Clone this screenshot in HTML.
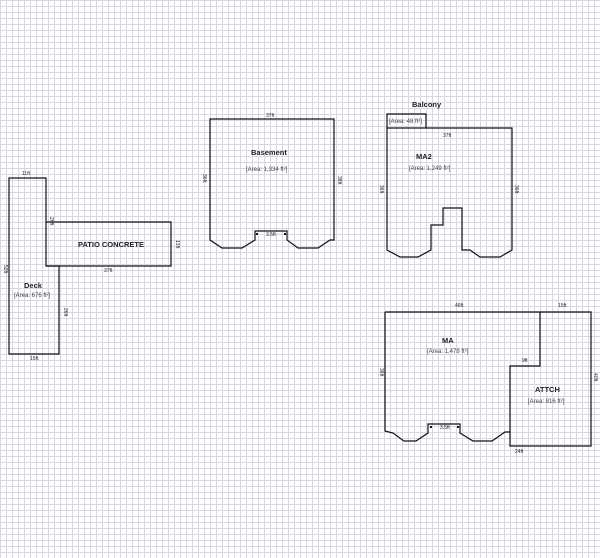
<!DOCTYPE html>
<html><head><meta charset="utf-8"><style>
html,body{margin:0;padding:0;width:600px;height:558px;overflow:hidden;background:#fff}
svg{display:block}
text{font-family:"Liberation Sans",sans-serif;fill:#222}
.s{font-size:5px}
.t{font-size:7.5px;font-weight:bold}
.a{font-size:6px;fill:#444}
</style></head><body>
<svg width="600" height="558" viewBox="0 0 600 558" xmlns="http://www.w3.org/2000/svg">
<defs>
<pattern id="g" width="6" height="6" patternUnits="userSpaceOnUse">
<path d="M0.5 0V6M0 0.5H6" stroke="#d6d6e6" stroke-width="1" fill="none"/>
</pattern>
</defs>
<rect width="600" height="558" fill="url(#g)"/>
<g fill="none" stroke="#111" stroke-width="1.2">
<path d="M9 178H46V266H59V354H9Z"/>
<path d="M46 222H171V266H46"/>
<path d="M210 119H334V240L330 240L318 248H298L287 240V231H255V240L242 248H222L210 240Z"/>
<path d="M387 128H512V250L500 257H480L470 250H462V208H443V225H431V250L418 257H400L387 250Z"/>
<path d="M387 128V114H426V128"/>
<path d="M385 312H540V366H510V446H591V312H540"/>
<path d="M385 312V431L393 433L404 441H416L428 433V424H460V433L473 441H492L505 432H510"/>
</g>
<g fill="#111"><rect x="256" y="233" width="2" height="2"/><rect x="284" y="233" width="2" height="2"/>
<rect x="430" y="426" width="2" height="2"/><rect x="457" y="426" width="2" height="2"/></g>
<text class="s" x="22" y="175">11ft</text>
<text class="s" x="30" y="360">15ft</text>
<text class="s" x="104" y="272">37ft</text>
<text class="t" x="78" y="247">PATIO CONCRETE</text>
<text class="t" x="24" y="288">Deck</text>
<text class="a" x="14" y="297">[Area: 676 ft²]</text>
<text class="s" x="4" y="265" transform="rotate(90 4 265)">52ft</text>
<text class="s" x="176" y="240" transform="rotate(90 176 240)">13ft</text>
<text class="s" x="64" y="308" transform="rotate(90 64 308)">26ft</text>
<text class="s" x="50" y="217" transform="rotate(90 50 217)">26ft</text>

<text class="s" x="266" y="117">37ft</text>
<text class="t" x="251" y="155">Basement</text>
<text class="a" x="246" y="171">[Area: 1,334 ft²]</text>
<text class="s" x="203" y="174" transform="rotate(90 203 174)">36ft</text>
<text class="s" x="338" y="176" transform="rotate(90 338 176)">38ft</text>
<text class="s" x="266" y="236">3.5ft</text>

<text class="t" x="412" y="107">Balcony</text>
<text class="a" x="389" y="123">[Area: 48 ft²]</text>
<text class="s" x="443" y="137">37ft</text>
<text class="t" x="416" y="159">MA2</text>
<text class="a" x="409" y="170">[Area: 1,249 ft²]</text>
<text class="s" x="380" y="185" transform="rotate(90 380 185)">36ft</text>
<text class="s" x="515" y="185" transform="rotate(90 515 185)">36ft</text>

<text class="s" x="455" y="307">46ft</text>
<text class="s" x="558" y="307">15ft</text>
<text class="t" x="442" y="343">MA</text>
<text class="a" x="427" y="353">[Area: 1,478 ft²]</text>
<text class="t" x="535" y="392">ATTCH</text>
<text class="a" x="528" y="403">[Area: 816 ft²]</text>
<text class="s" x="380" y="368" transform="rotate(90 380 368)">36ft</text>
<text class="s" x="594" y="373" transform="rotate(90 594 373)">40ft</text>
<text class="s" x="515" y="453">24ft</text>
<text class="s" x="440" y="429">3.5ft</text>
<text class="s" x="522" y="362">9ft</text>
</svg>
</body></html>
